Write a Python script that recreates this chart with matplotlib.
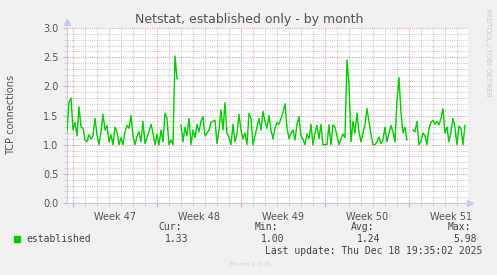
import matplotlib
matplotlib.use("Agg")
import matplotlib.pyplot as plt
import matplotlib.dates as mdates
import numpy as np
import pandas as pd

nan = np.nan

# established connections, one sample every 4 hours
established = [
    1.22, 1.73, 1.80, 1.25, 1.38, 1.15, 1.65, 1.30, 1.28, 1.08,
    1.05, 1.17, 1.10, 1.15, 1.45, 1.17, 1.00, 1.22, 1.52, 1.25,
    1.33, 1.05, 1.17, 1.00, 1.30, 1.22, 1.00, 1.12, 1.00, 1.22,
    1.33, 1.28, 1.50, 1.15,
    1.00, 1.14, 1.22, 1.05, 1.40, 1.02, 1.12, 1.22, 1.35, 1.20,
    1.00, 1.18, 1.00, 1.25, 1.05, 1.54, 1.45, 1.00, 1.08, 1.00,
    2.52, 2.13, nan, 1.34, 1.05, 1.30, 1.15, 1.45, 1.00, 1.25,
    1.12, 1.35, 1.22, 1.40,
    1.48, 1.15, 1.20, 1.25, 1.38, 1.40, 1.42, 1.02, 1.25, 1.60,
    1.25, 1.72, 1.20, 1.12, 1.00, 1.35, 1.05, 1.18, 1.52, 1.25,
    1.10, 1.20, 1.00, 1.54, 1.45, 1.00, 1.15, 1.30, 1.45, 1.25,
    1.57, 1.40, 1.28, 1.50,
    1.25, 1.10, 1.28, 1.38, 1.35, 1.45, 1.55, 1.70, 1.30, 1.10,
    1.20, 1.25, 1.08, 1.35, 1.48, 1.15, 1.10, 1.00, 1.18, 1.10,
    1.35, 1.00, 1.20, 1.33, 1.10, 1.35, 1.00, 1.00, 1.00, 1.34,
    1.00, 1.34, 1.30, 1.15,
    1.00, 1.10, 1.18, 1.12, 2.45, 2.05, 1.05, 1.40, 1.20, 1.54,
    1.22, 1.05, 1.20, 1.34, 1.62, 1.40, 1.18, 1.00, 1.00, 1.05,
    1.13, 1.02, 1.08, 1.30, 1.05, 1.20, 1.33, 1.22, 1.05, 1.75,
    2.15, 1.55, 1.20, 1.30,
    1.08, nan, nan, 1.25, 1.22, 1.40, 1.00, 1.05, 1.20, 1.15,
    1.00, 1.28, 1.38, 1.42, 1.35, 1.40, 1.34, 1.45, 1.62, 1.20,
    1.30, 1.05, 1.22, 1.45, 1.30, 1.00, 1.32, 1.28, 1.00, 1.33,
]
times = pd.date_range("2025-11-15 12:30", periods=len(established), freq="4h")

week_starts = pd.to_datetime(["2025-11-16", "2025-11-23", "2025-11-30",
                              "2025-12-07", "2025-12-14"])
week_labels = ["Week 47", "Week 48", "Week 49", "Week 50", "Week 51"]
y_ticks = [0.0, 0.5, 1.0, 1.5, 2.0, 2.5, 3.0]

W, H = 497, 275
fig = plt.figure(figsize=(W / 100, H / 100), dpi=100, facecolor="#F0F0F0")
ax = fig.add_axes([67 / W, 1 - 203 / H, 401 / W, 175 / H])
ax.set_facecolor("white")

ax.plot(times, established, color="#00CC00", lw=1.0, zorder=3)

ax.set_xlim(pd.Timestamp("2025-11-15 12:30"), pd.Timestamp("2025-12-18 22:35"))
ax.set_ylim(0, 3.0)

# grid, rrdtool style
ax.yaxis.set_major_locator(matplotlib.ticker.FixedLocator(y_ticks))
ax.yaxis.set_minor_locator(matplotlib.ticker.MultipleLocator(0.1))
ax.xaxis.set_major_locator(matplotlib.ticker.FixedLocator(mdates.date2num(week_starts)))
ax.xaxis.set_minor_locator(mdates.DayLocator())
ax.grid(which="minor", color="#CCCCCC", ls=(0, (1, 1)), lw=0.8)
ax.grid(which="major", color="#F0A0A0", ls=(0, (1, 1)), lw=0.8)
ax.set_axisbelow(True)

ax.set_yticklabels([f"{v:.1f}" for v in y_ticks], fontsize=7, color="#555555")
ax.set_xticklabels([])
ax.tick_params(axis="y", which="major", length=3, color="#BBBBBB", pad=3)
ax.tick_params(axis="y", which="minor", length=2, color="#CCCCCC")
ax.tick_params(axis="x", which="major", length=3, color="#F0A0A0")
ax.tick_params(axis="x", which="minor", length=2, color="#CCCCCC")

for wk, lab in zip(week_starts, week_labels):
    ax.text(wk + pd.Timedelta(days=3.5), -0.05, lab, transform=ax.get_xaxis_transform(),
            ha="center", va="top", fontsize=7, color="#555555")

for s in ["top", "right"]:
    ax.spines[s].set_visible(False)
for s in ["left", "bottom"]:
    ax.spines[s].set_color("#C8C8F0")
    ax.spines[s].set_linewidth(0.8)
ax.plot([0], [1.035], marker="^", ms=4, color="#C8C8F0", transform=ax.transAxes, clip_on=False)
ax.plot([1.005], [0], marker=">", ms=4, color="#C8C8F0", transform=ax.transAxes, clip_on=False)


def px(x, y):
    return x / W, 1 - y / H


fig.text(*px(249, 19), "Netstat, established only - by month", ha="center", va="center",
         fontsize=9, color="#555555")
fig.text(*px(11, 115), "TCP connections", rotation=90, ha="center", va="center",
         fontsize=7, color="#555555")
fig.text(*px(488, 52), "RRDTOOL / TOBI OETIKER", rotation=270, ha="center", va="center",
         fontsize=5, color="#C8C8C8")
fig.text(*px(250, 264), "Munin 2.0.76", ha="center", va="center", fontsize=4.5, color="#D0D0D0")

mono = dict(family="DejaVu Sans Mono", fontsize=7, color="#444444", va="center")
fig.patches.append(plt.Rectangle(px(14, 242), 6 / W, 6 / H, transform=fig.transFigure,
                                 color="#00CC00"))
fig.text(*px(26, 239.5), "established", ha="left", **mono)
for lab, val, xl, xv in [("Cur:", "1.33", 182, 188), ("Min:", "1.00", 278, 284),
                         ("Avg:", "1.24", 374, 380), ("Max:", "5.98", 471, 477)]:
    fig.text(*px(xl, 227.5), lab, ha="right", **mono)
    fig.text(*px(xv, 239.5), val, ha="right", **mono)
fig.text(*px(482, 251), "Last update: Thu Dec 18 19:35:02 2025", ha="right", **mono)

fig.savefig("out.png", dpi=100, facecolor=fig.get_facecolor())
